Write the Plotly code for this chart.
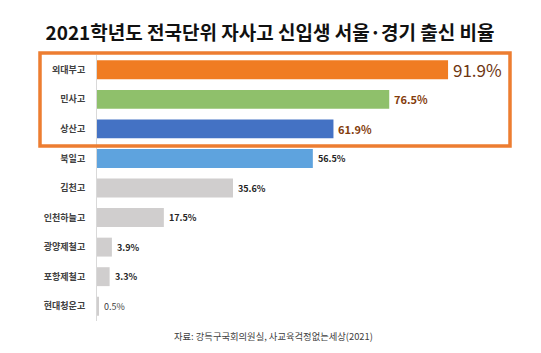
import plotly.graph_objects as go

schools = ["외대부고", "민사고", "상산고", "북일고", "김천고", "인천하늘고", "광양제철고", "포항제철고", "현대청운고"]
values = [91.9, 76.5, 61.9, 56.5, 35.6, 17.5, 3.9, 3.3, 0.5]
bar_colors = ["#F07C22", "#8FC06B", "#4472C4", "#5EA3DE", "#D0CECE", "#D0CECE", "#D0CECE", "#D0CECE", "#D0CECE"]
label_sizes = [17, 11, 11, 9, 9, 9, 9, 9, 9]
label_colors = ["#6E3612", "#843C0C", "#843C0C", "#262626", "#262626", "#262626", "#262626", "#262626", "#404040"]
label_bold = [False, True, True, True, True, True, True, True, False]

title_text = "2021학년도 전국단위 자사고 신입생 서울·경기 출신 비율"
source_text = "자료: 강득구국회의원실, 사교육걱정없는세상(2021)"

FONT = "Noto Sans CJK KR"
W, H = 541, 353
L, R, T, B = 97, 62, 55, 32
pw, ph = W - L - R, H - T - B

def px_x(p):
    return (p - L) / pw

def px_y(p):
    return (H - B - p) / ph

fig = go.Figure(go.Bar(
    x=values, y=schools, orientation="h",
    marker=dict(color=bar_colors, line=dict(width=0)),
    hoverinfo="skip",
))

for s, v, sz, c, b in zip(schools, values, label_sizes, label_colors, label_bold):
    t = f"{v}%"
    fig.add_annotation(
        x=v, y=s, xref="x", yref="y", text=f"<b>{t}</b>" if b else t,
        showarrow=False, xanchor="left", yanchor="middle", xshift=3,
        font=dict(family=FONT, size=sz, color=c),
    )

fig.add_shape(type="rect", xref="paper", yref="paper",
              x0=px_x(40), x1=px_x(510), y0=px_y(146), y1=px_y(53),
              line=dict(color="#ED7D31", width=3.5), fillcolor="rgba(0,0,0,0)")

fig.add_annotation(text=source_text, xref="paper", yref="paper",
                   x=px_x(273), y=px_y(336), showarrow=False,
                   xanchor="center", yanchor="middle",
                   font=dict(family=FONT, size=9.3, color="#404040"))

fig.update_layout(
    width=W, height=H,
    margin=dict(l=L, r=R, t=T, b=B),
    paper_bgcolor="white", plot_bgcolor="white",
    bargap=0.36,
    showlegend=False,
    title=dict(text=f"<b>{title_text}</b>", x=270 / W, xanchor="center",
               y=1 - 33 / H, yanchor="middle",
               font=dict(family=FONT, size=19, color="#111111")),
    xaxis=dict(range=[0, 100], visible=False, fixedrange=True),
    yaxis=dict(autorange="reversed", showgrid=False, zeroline=False,
               showline=True, linecolor="#D9D9D9", linewidth=1,
               ticks="", ticklabelstandoff=9,
               tickfont=dict(family=FONT, size=9, color="#404040"),
               tickvals=schools, ticktext=[f"<b>{s}</b>" for s in schools]),
)

fig.write_html("out.html")
